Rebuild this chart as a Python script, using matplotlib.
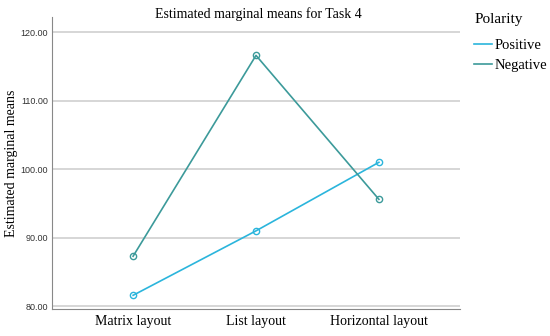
import matplotlib.pyplot as plt

# data
layouts = ['Matrix layout', 'List layout', 'Horizontal layout']
positive = [81.6, 91.0, 101.0]
negative = [87.3, 116.6, 95.6]
y_ticks = [80, 90, 100, 110, 120]

pos_color = '#2bb5dc'
neg_color = '#3c9a9a'
serif = 'Liberation Serif'

fig = plt.figure(figsize=(5.5, 3.36), dpi=100)
ax = fig.add_axes([52 / 550, 1 - 309 / 336, (460 - 52) / 550, (309 - 17) / 336])

x = list(range(len(layouts)))
ax.plot(x, positive, color=pos_color, lw=1.2, marker='o', ms=4.5,
        mfc='none', mew=1.0, label='Positive')
ax.plot(x, negative, color=neg_color, lw=1.2, marker='o', ms=4.5,
        mfc='none', mew=1.0, label='Negative')

ax.set_xlim(-0.66, 2.66)
ax.set_ylim(79.6, 122.2)
ax.set_yticks(y_ticks)
ax.set_yticklabels(['%.2f' % v for v in y_ticks], fontsize=6.5,
                   family='Liberation Sans', color='#333333')
ax.set_xticks(x)
ax.set_xticklabels(layouts, fontsize=10, family=serif)
ax.tick_params(axis='both', length=0, pad=3)
ax.tick_params(axis='x', pad=4)
ax.grid(axis='y', color='#d0d0d0', lw=1.2)
ax.set_axisbelow(True)

for s in ['top', 'right']:
    ax.spines[s].set_visible(False)
ax.spines['left'].set_color('#888888')
ax.spines['bottom'].set_color('#888888')
ax.spines['left'].set_linewidth(0.8)
ax.spines['bottom'].set_linewidth(0.8)

ax.set_ylabel('Estimated marginal means', fontsize=10, family=serif, labelpad=2)
fig.text(258 / 550, 1 - 14 / 336, 'Estimated marginal means for Task 4',
         fontsize=10, family=serif, ha='center', va='center')

# legend title drawn separately so its gap to the entries can match
fig.text(475 / 550, 1 - 20 / 336, 'Polarity', fontsize=11, family=serif,
         ha='left', va='center')
leg = fig.legend(loc='upper left', bbox_to_anchor=(474 / 550, 1 - 39 / 336),
                 frameon=False, handlelength=1.25, handletextpad=0.15,
                 prop={'family': serif, 'size': 10.5},
                 labelspacing=0.45, borderaxespad=0, borderpad=0)
for h in leg.legend_handles:
    h.set_marker('')

fig.savefig('out.png', dpi=100)
